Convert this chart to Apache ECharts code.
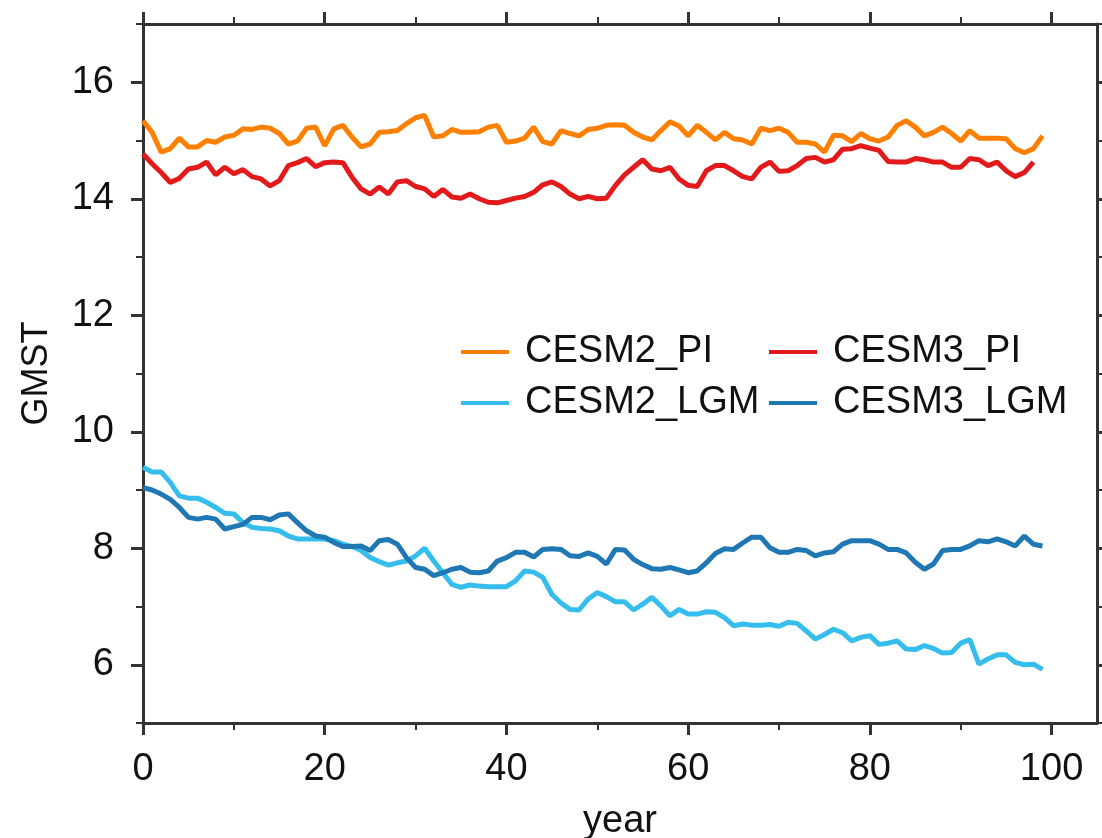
<!DOCTYPE html>
<html>
<head>
<meta charset="utf-8">
<title>GMST</title>
<script src="https://cdn.jsdelivr.net/npm/echarts@6/dist/echarts.min.js"></script>
<style>
  html, body { margin: 0; padding: 0; background: #fff; }
  #main { width: 1102px; height: 838px; }
</style>
</head>
<body>
<div id="main"></div>
<script>
// values, one per model year (0, 1, 2, ...)
var cesm2PI = [15.34, 15.14, 14.80, 14.86, 15.04, 14.89, 14.89, 15.00, 14.97, 15.06,
  15.09, 15.20, 15.19, 15.23, 15.21, 15.12, 14.94, 14.99, 15.21, 15.23,
  14.91, 15.20, 15.26, 15.06, 14.89, 14.94, 15.14, 15.15, 15.17, 15.29,
  15.39, 15.43, 15.06, 15.08, 15.19, 15.14, 15.14, 15.15, 15.23, 15.26,
  14.97, 14.99, 15.04, 15.23, 14.98, 14.94, 15.17, 15.12, 15.08, 15.19,
  15.21, 15.26, 15.27, 15.26, 15.14, 15.06, 15.01, 15.17, 15.32, 15.25,
  15.08, 15.26, 15.14, 15.01, 15.14, 15.03, 15.01, 14.94, 15.21, 15.17,
  15.21, 15.14, 14.97, 14.97, 14.94, 14.80, 15.09, 15.08, 14.98, 15.12,
  15.03, 14.99, 15.06, 15.26, 15.34, 15.23, 15.08, 15.14, 15.23, 15.12,
  14.99, 15.17, 15.04, 15.04, 15.04, 15.03, 14.86, 14.79, 14.86, 15.08];

var cesm3PI = [14.77, 14.60, 14.45, 14.28, 14.35, 14.51, 14.54, 14.63, 14.41, 14.54,
  14.43, 14.50, 14.38, 14.34, 14.22, 14.31, 14.57, 14.62, 14.69, 14.55,
  14.62, 14.63, 14.62, 14.37, 14.17, 14.08, 14.20, 14.08, 14.29, 14.31,
  14.21, 14.17, 14.04, 14.16, 14.03, 14.01, 14.08, 14.00, 13.94, 13.93,
  13.97, 14.01, 14.04, 14.11, 14.24, 14.29, 14.21, 14.08, 14.00, 14.04,
  14.00, 14.01, 14.23, 14.41, 14.54, 14.67, 14.51, 14.48, 14.54, 14.34,
  14.23, 14.21, 14.48, 14.57, 14.57, 14.48, 14.38, 14.34, 14.54, 14.63,
  14.47, 14.48, 14.57, 14.69, 14.71, 14.63, 14.67, 14.85, 14.86, 14.91,
  14.87, 14.83, 14.64, 14.63, 14.63, 14.69, 14.67, 14.63, 14.63, 14.54,
  14.54, 14.69, 14.67, 14.57, 14.63, 14.48, 14.38, 14.45, 14.63];

var cesm2LGM = [9.39, 9.31, 9.31, 9.13, 8.90, 8.86, 8.86, 8.79, 8.70, 8.60,
  8.59, 8.44, 8.36, 8.34, 8.33, 8.30, 8.21, 8.16, 8.16, 8.16,
  8.16, 8.13, 8.07, 8.03, 7.96, 7.84, 7.77, 7.71, 7.75, 7.78,
  7.87, 8.00, 7.78, 7.58, 7.38, 7.33, 7.37, 7.35, 7.34, 7.34,
  7.34, 7.44, 7.61, 7.59, 7.50, 7.21, 7.06, 6.95, 6.94, 7.13,
  7.24, 7.17, 7.08, 7.08, 6.94, 7.04, 7.16, 7.01, 6.84, 6.95,
  6.87, 6.87, 6.91, 6.90, 6.81, 6.67, 6.70, 6.68, 6.68, 6.69,
  6.66, 6.73, 6.71, 6.58, 6.44, 6.52, 6.61, 6.55, 6.41, 6.47,
  6.50, 6.35, 6.37, 6.41, 6.27, 6.26, 6.33, 6.28, 6.20, 6.21,
  6.37, 6.43, 6.01, 6.10, 6.17, 6.17, 6.04, 6.00, 6.01, 5.92];

var cesm3LGM = [9.04, 9.00, 8.93, 8.84, 8.70, 8.53, 8.50, 8.53, 8.50, 8.33,
  8.37, 8.41, 8.53, 8.53, 8.49, 8.57, 8.59, 8.44, 8.30, 8.21,
  8.19, 8.10, 8.03, 8.03, 8.04, 7.96, 8.13, 8.15, 8.07, 7.84,
  7.67, 7.64, 7.53, 7.58, 7.64, 7.67, 7.59, 7.58, 7.61, 7.78,
  7.84, 7.93, 7.93, 7.85, 7.98, 7.99, 7.98, 7.87, 7.86, 7.92,
  7.86, 7.73, 7.98, 7.97, 7.81, 7.72, 7.65, 7.64, 7.67, 7.63,
  7.58, 7.61, 7.75, 7.91, 7.99, 7.98, 8.09, 8.19, 8.19, 8.01,
  7.93, 7.93, 7.98, 7.96, 7.87, 7.92, 7.94, 8.07, 8.13, 8.13,
  8.13, 8.07, 7.98, 7.98, 7.92, 7.76, 7.64, 7.73, 7.96, 7.98,
  7.98, 8.04, 8.13, 8.11, 8.16, 8.11, 8.04, 8.21, 8.07, 8.04];

var xMajor = [0, 20, 40, 60, 80, 100];
var xMinor = [10, 30, 50, 70, 90];
var yMajor = [6, 8, 10, 12, 14, 16];
var yMinor = [5, 7, 9, 11, 13, 15, 17];

var seriesNames = ['CESM2_PI', 'CESM3_PI', 'CESM2_LGM', 'CESM3_LGM'];
var seriesColors = ['#ff8000', '#e31a1c', '#35bdee', '#1f78b4'];
var seriesValues = [cesm2PI, cesm3PI, cesm2LGM, cesm3LGM];

var FONT = 'Liberation Sans, Arial, Helvetica, sans-serif';
var AXIS_COLOR = '#333';

// year index -> [x, y] pairs
function toPairs(arr) {
  return arr.map(function (v, i) { return [i, v]; });
}

// one axis per side for the long ticks, one for the short ticks
function xAxisDef(pos, ticks, len, showLabel, showLine) {
  return {
    type: 'value', position: pos, min: 0, max: 105,
    axisLine: { show: showLine, onZero: false, lineStyle: { color: AXIS_COLOR, width: 3 } },
    axisTick: { show: true, customValues: ticks, length: len, lineStyle: { color: AXIS_COLOR, width: len > 10 ? 3 : 2 } },
    axisLabel: { show: showLabel, customValues: ticks, margin: 28, color: '#111', fontSize: 38, fontFamily: FONT },
    splitLine: { show: false }
  };
}
function yAxisDef(pos, ticks, len, showLabel, showLine) {
  return {
    type: 'value', position: pos, min: 5, max: 17,
    axisLine: { show: showLine, onZero: false, lineStyle: { color: AXIS_COLOR, width: 3 } },
    axisTick: { show: true, customValues: ticks, length: len, lineStyle: { color: AXIS_COLOR, width: len > 10 ? 3 : 2 } },
    axisLabel: { show: showLabel, customValues: ticks, margin: 29, color: '#111', fontSize: 38, fontFamily: FONT },
    splitLine: { show: false }
  };
}

var xAxes = [
  xAxisDef('bottom', xMajor, 12, true, true),
  xAxisDef('bottom', xMinor, 7, false, false),
  xAxisDef('top', xMajor, 12, false, true),
  xAxisDef('top', xMinor, 7, false, false)
];
xAxes[0].name = 'year';
xAxes[0].nameLocation = 'middle';
xAxes[0].nameGap = 80;
xAxes[0].nameTextStyle = { color: '#111', fontSize: 38, fontFamily: FONT };

var yAxes = [
  yAxisDef('left', yMajor, 12, true, true),
  yAxisDef('left', yMinor, 7, false, false),
  yAxisDef('right', yMajor, 12, false, true),
  yAxisDef('right', yMinor, 7, false, false)
];
yAxes[0].name = 'GMST';
yAxes[0].nameLocation = 'middle';
yAxes[0].nameGap = 88;
yAxes[0].nameTextStyle = { color: '#111', fontSize: 36, fontFamily: FONT };

var legendText = { color: '#111', fontSize: 38, fontFamily: FONT, padding: [0, 0, 0, 11] };

var myChart = echarts.init(document.getElementById('main'));

var option = {
  animation: false,
  backgroundColor: '#fff',
  grid: { left: 143, right: 5, top: 24, bottom: 115, containLabel: false, outerBoundsMode: 'none' },
  xAxis: xAxes,
  yAxis: yAxes,
  legend: [
    {
      data: ['CESM2_PI', 'CESM2_LGM'], orient: 'vertical', left: 456, top: 328,
      icon: 'rect', itemWidth: 48, itemHeight: 4, itemGap: 13, textStyle: legendText
    },
    {
      data: ['CESM3_PI', 'CESM3_LGM'], orient: 'vertical', left: 764, top: 328,
      icon: 'rect', itemWidth: 48, itemHeight: 4, itemGap: 13, textStyle: legendText
    }
  ],
  series: seriesNames.map(function (name, k) {
    return {
      name: name,
      type: 'line',
      xAxisIndex: 0,
      yAxisIndex: 0,
      data: toPairs(seriesValues[k]),
      showSymbol: false,
      color: seriesColors[k],
      lineStyle: { color: seriesColors[k], width: 5 }
    };
  })
};

myChart.setOption(option);
</script>
</body>
</html>
